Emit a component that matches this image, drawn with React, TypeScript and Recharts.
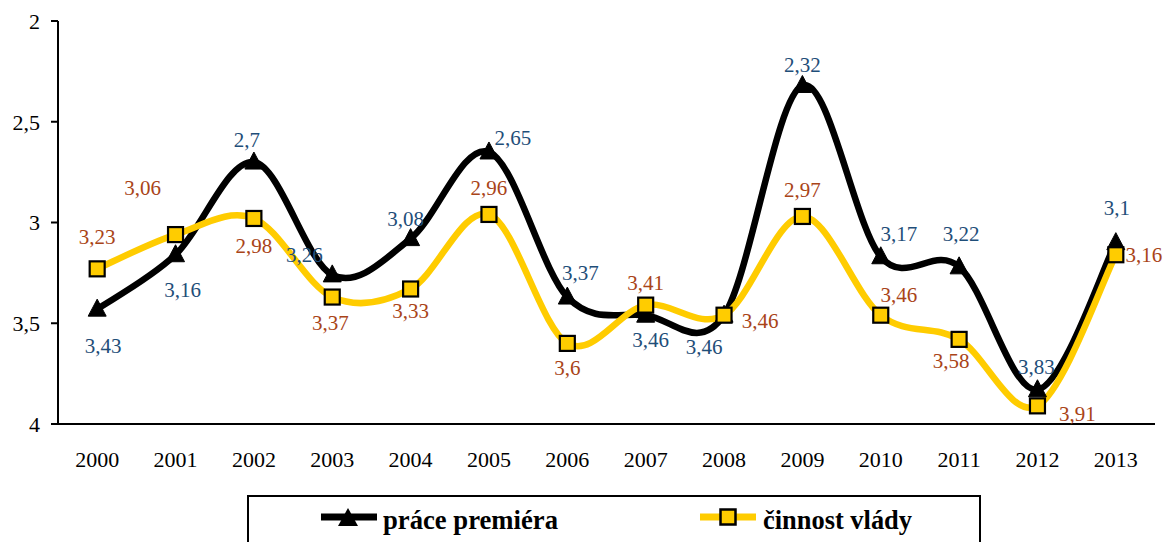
import React from 'react';
import { LineChart, Line, XAxis, YAxis, LabelList } from 'recharts';

const years = ['2000', '2001', '2002', '2003', '2004', '2005', '2006', '2007', '2008', '2009', '2010', '2011', '2012', '2013'];
const premier = [3.43, 3.16, 2.7, 3.26, 3.08, 2.65, 3.37, 3.46, 3.46, 2.32, 3.17, 3.22, 3.83, 3.1];
const vlada = [3.23, 3.06, 2.98, 3.37, 3.33, 2.96, 3.6, 3.41, 3.46, 2.97, 3.46, 3.58, 3.91, 3.16];
const yTicks = [2, 2.5, 3, 3.5, 4];
const seriesNames = ['práce premiéra', 'činnost vlády'];

// label placement offsets (dx, dy) relative to each point
const premierLabelOffsets: [number, number][] = [
  [6, 37], [7, 35], [-7, -22], [-28, -20], [-5, -20], [24, -14], [13, -24],
  [5, 25], [-20, 32], [0, -20], [18, -23], [2, -33], [-1, -23], [1, -35],
];
const vladaLabelOffsets: [number, number][] = [
  [0, -32], [-33, -47], [0, 28], [-2, 26], [0, 22], [0, -26], [0, 25],
  [0, -22], [36, 6], [0, -26], [18, -20], [-8, 22], [40, 8], [28, 0],
];

const data = years.map((y, i) => ({ year: y, idx: i, premier: premier[i], vlada: vlada[i] }));
const boundaryTicks = years.map((_, i) => i).concat([years.length]);

const BLACK = '#000000';
const YELLOW = '#FFCC00';
const BLUE = '#1F4E79';
const ORANGE = '#A94418';
const FONT = "'Liberation Serif', 'Times New Roman', Times, serif";

// Excel-like smoothing (Catmull-Rom converted to cubic Bezier)
const excelSmooth = (context: any) => {
  let pts: [number, number][] = [];
  return {
    areaStart() {},
    areaEnd() {},
    lineStart() {
      pts = [];
    },
    lineEnd() {
      const n = pts.length;
      if (!n) return;
      context.moveTo(pts[0][0], pts[0][1]);
      for (let i = 0; i < n - 1; i++) {
        const p0 = pts[Math.max(i - 1, 0)];
        const p1 = pts[i];
        const p2 = pts[i + 1];
        const p3 = pts[Math.min(i + 2, n - 1)];
        const c1x = p1[0] + (p2[0] - p0[0]) / 6;
        const c1y = p1[1] + (p2[1] - p0[1]) / 6;
        const c2x = p2[0] - (p3[0] - p1[0]) / 6;
        const c2y = p2[1] - (p3[1] - p1[1]) / 6;
        context.bezierCurveTo(c1x, c1y, c2x, c2y, p2[0], p2[1]);
      }
    },
    point(x: number, y: number) {
      pts.push([+x, +y]);
    },
  };
};

const TriangleDot = (props: any) => {
  const { cx, cy, index } = props;
  if (cx == null || cy == null) return <g key={`t${index}`} />;
  const s = 9;
  return (
    <polygon
      key={`t${index}`}
      points={`${cx},${cy - s - 1} ${cx - s},${cy + s - 2} ${cx + s},${cy + s - 2}`}
      fill={BLACK}
      stroke={BLACK}
      strokeWidth={1}
    />
  );
};

const SquareDot = (props: any) => {
  const { cx, cy, index } = props;
  if (cx == null || cy == null) return <g key={`s${index}`} />;
  const s = 7.5;
  return (
    <rect key={`s${index}`} x={cx - s} y={cy - s} width={2 * s} height={2 * s} fill={YELLOW} stroke={BLACK} strokeWidth={2.2} />
  );
};

const fmt = (v: number) => String(v).replace('.', ',');

const makeLabel = (offsets: [number, number][], color: string) => (props: any) => {
  const { x, y, value, index } = props;
  const [dx, dy] = offsets[index] || [0, -20];
  return (
    <text
      x={x + dx}
      y={y + dy}
      textAnchor="middle"
      dominantBaseline="central"
      fill={color}
      style={{ fontSize: 21, fontFamily: FONT }}
    >
      {fmt(value)}
    </text>
  );
};

const legendText = { fontSize: 28, fontWeight: 'bold' as const, fontFamily: FONT };

const Legend = () => (
  <div
    style={{
      position: 'absolute',
      left: 247,
      top: 495,
      width: 734,
      height: 70,
      border: '2px solid #000',
      boxSizing: 'border-box',
      background: '#fff',
    }}
  >
    <svg width={734} height={70} style={{ position: 'absolute', left: -2, top: -2 }}>
      <line x1={74} y1={22} x2={130} y2={22} stroke={BLACK} strokeWidth={7} />
      <polygon points={`101,13 91,31 111,31`} fill={BLACK} />
      <text x={136} y={34} fill="#000" style={legendText} textLength={175} lengthAdjust="spacingAndGlyphs">
        {seriesNames[0]}
      </text>
      <line x1={453} y1={22} x2={509} y2={22} stroke={YELLOW} strokeWidth={7} />
      <rect x={473.5} y={14.5} width={15} height={15} fill={YELLOW} stroke={BLACK} strokeWidth={2.5} />
      <text x={516} y={34} fill="#000" style={legendText} textLength={149} lengthAdjust="spacingAndGlyphs">
        {seriesNames[1]}
      </text>
    </svg>
  </div>
);

const tickStyle = { fill: '#000', fontSize: 22, style: { fontFamily: FONT } };

export default function App() {
  return (
    <div style={{ position: 'absolute', left: 0, top: 0, width: 1170, height: 542, background: '#fff', overflow: 'hidden', fontFamily: FONT }}>
      <LineChart width={1170} height={542} data={data} margin={{ top: 21, right: 15, bottom: 78, left: 0 }} style={{ fontFamily: FONT }}>
        <XAxis
          xAxisId="bounds"
          type="number"
          dataKey="idx"
          domain={[0, years.length]}
          ticks={boundaryTicks}
          tick={false}
          axisLine={false}
          tickLine={{ stroke: BLACK, strokeWidth: 2 }}
          tickSize={8}
          height={0}
          allowDataOverflow
        />
        <XAxis
          dataKey="year"
          scale="band"
          tickLine={false}
          axisLine={{ stroke: BLACK, strokeWidth: 2 }}
          tick={tickStyle}
          tickMargin={21}
          height={40}
          interval={0}
        />
        <XAxis
          xAxisId="top"
          orientation="top"
          dataKey="year"
          tick={false}
          tickLine={false}
          axisLine={{ stroke: '#888', strokeWidth: 2 }}
          height={0}
        />
        <YAxis
          reversed
          domain={[2, 4]}
          ticks={yTicks}
          tickFormatter={fmt}
          axisLine={{ stroke: BLACK, strokeWidth: 2 }}
          tickLine={{ stroke: BLACK, strokeWidth: 2 }}
          tickSize={7}
          tickMargin={11}
          tick={tickStyle}
          width={58}
          interval={0}
        />
        <YAxis
          yAxisId="right"
          orientation="right"
          reversed
          domain={[2, 4]}
          tick={false}
          tickLine={false}
          axisLine={{ stroke: '#888', strokeWidth: 2 }}
          width={0}
        />
        <Line
          dataKey="premier"
          type={excelSmooth as any}
          stroke={BLACK}
          strokeWidth={6.5}
          dot={<TriangleDot />}
          activeDot={false}
          isAnimationActive={false}
        >
          <LabelList dataKey="premier" content={makeLabel(premierLabelOffsets, BLUE)} />
        </Line>
        <Line
          dataKey="vlada"
          type={excelSmooth as any}
          stroke={YELLOW}
          strokeWidth={6.5}
          dot={<SquareDot />}
          activeDot={false}
          isAnimationActive={false}
        >
          <LabelList dataKey="vlada" content={makeLabel(vladaLabelOffsets, ORANGE)} />
        </Line>
      </LineChart>
      <Legend />
    </div>
  );
}
